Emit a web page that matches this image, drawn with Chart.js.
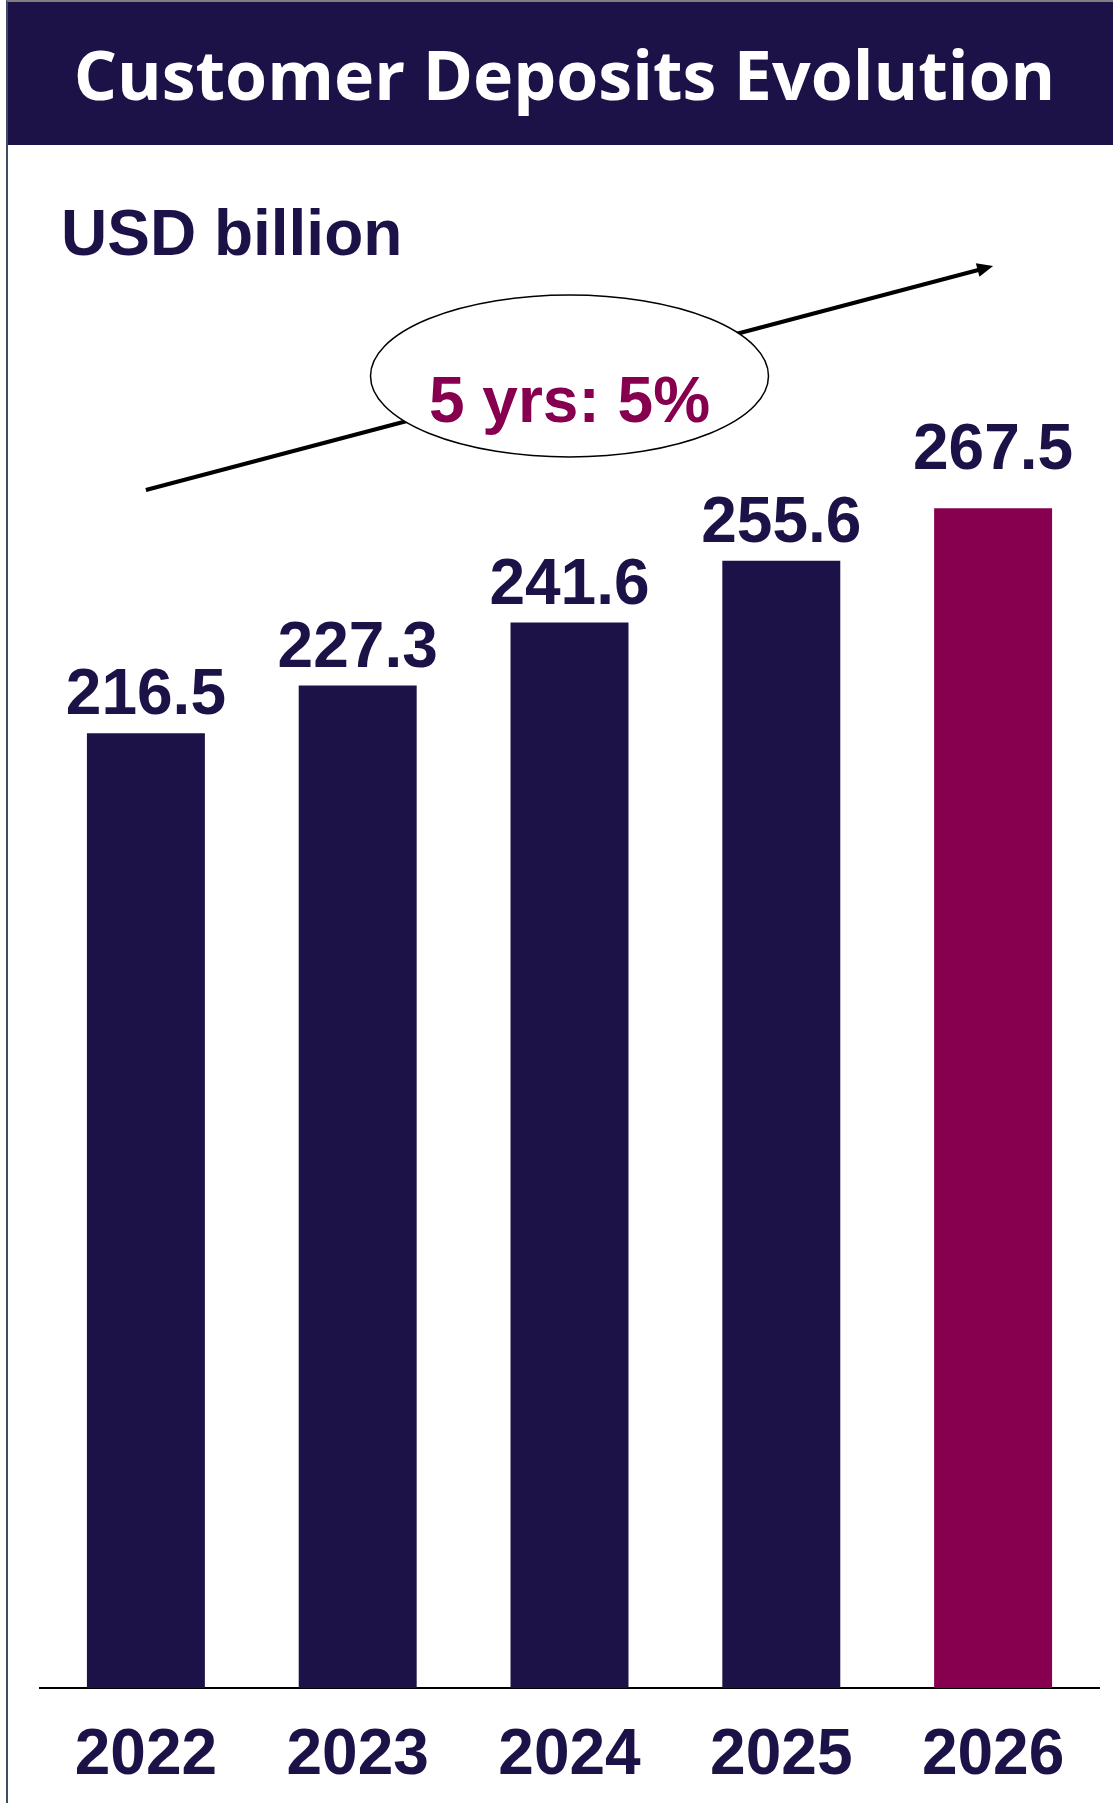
<!DOCTYPE html>
<html>
<head>
<meta charset="utf-8">
<script src="https://cdn.jsdelivr.net/npm/chart.js@4.4.1/dist/chart.umd.min.js"></script>
<style>
  html, body { margin: 0; padding: 0; background: #fff; }
  body { width: 1113px; height: 1803px; position: relative; overflow: hidden; }
  #frame {
    position: absolute; left: 6px; top: 0; right: 0; bottom: 0;
    border-top: 2px solid #7f7f7f; border-left: 2px solid #3b4e66;
  }
  #title {
    position: absolute; left: 8px; top: 2px; right: 0; height: 143px;
    background: #1c1248; color: #fff;
    font: 700 68px "Open Sans", sans-serif;
    display: flex; align-items: center; justify-content: center;
    padding-left: 8px; box-sizing: border-box;
  }
  #chart-wrap { position: absolute; left: 0; top: 0; width: 1113px; height: 1803px; }
</style>
</head>
<body>
<div id="frame"></div>
<div id="title">Customer Deposits Evolution</div>
<div id="chart-wrap"><canvas id="chart-canvas" width="1113" height="1803"></canvas></div>
<script>
const years = ["2022", "2023", "2024", "2025", "2026"];
const deposits = [216.5, 227.3, 241.6, 255.6, 267.5];
const barColors = ["#1c1248", "#1c1248", "#1c1248", "#1c1248", "#870050"];
const unitLabel = "USD billion";
const cagrLabel = "5 yrs: 5%";

const NAVY = "#1c1248";
const PLUM = "#870050";
const FONT = '"Liberation Sans", Arial, sans-serif';

// value labels, trend arrow and CAGR bubble
const decorations = {
  id: "decorations",
  afterDatasetsDraw(chart) {
    const ctx = chart.ctx;
    const meta = chart.getDatasetMeta(0);
    const last = meta.data.length - 1;

    ctx.save();
    ctx.font = "bold 64px " + FONT;
    ctx.fillStyle = NAVY;
    ctx.textAlign = "center";
    ctx.textBaseline = "alphabetic";
    meta.data.forEach((bar, i) => {
      const gap = i === last ? 39 : 19;
      ctx.fillText(deposits[i].toFixed(1), bar.x, bar.y - gap);
    });

    // unit label
    ctx.textAlign = "left";
    ctx.fillText(unitLabel, 61, 255);

    // trend arrow from first to last category
    const x0 = meta.data[0].x, x1 = meta.data[last].x;
    const y0 = 490, y1 = 266;
    ctx.strokeStyle = "#000";
    ctx.lineWidth = 4;
    ctx.beginPath();
    ctx.moveTo(x0, y0);
    ctx.lineTo(x1 - 12, y1 + 3.2);
    ctx.stroke();
    const ang = Math.atan2(y1 - y0, x1 - x0);
    ctx.fillStyle = "#000";
    ctx.beginPath();
    ctx.moveTo(x1, y1);
    ctx.lineTo(x1 - 16 * Math.cos(ang) + 7 * Math.sin(ang), y1 - 16 * Math.sin(ang) - 7 * Math.cos(ang));
    ctx.lineTo(x1 - 16 * Math.cos(ang) - 7 * Math.sin(ang), y1 - 16 * Math.sin(ang) + 7 * Math.cos(ang));
    ctx.closePath();
    ctx.fill();

    // CAGR bubble
    const cx = meta.data[2].x, cy = 376;
    ctx.beginPath();
    ctx.ellipse(cx, cy, 199, 81, 0, 0, Math.PI * 2);
    ctx.fillStyle = "#fff";
    ctx.fill();
    ctx.lineWidth = 1.5;
    ctx.strokeStyle = "#000";
    ctx.stroke();
    ctx.fillStyle = PLUM;
    ctx.textAlign = "center";
    ctx.fillText(cagrLabel, cx, 422);
    ctx.restore();
  }
};

const ctx = document.getElementById("chart-canvas").getContext("2d");
const depositChart = new Chart(ctx, {
  type: "bar",
  data: {
    labels: years,
    datasets: [{
      data: deposits,
      backgroundColor: barColors,
      borderWidth: 0,
      categoryPercentage: 1.0,
      barPercentage: 0.557
    }]
  },
  options: {
    responsive: false,
    animation: false,
    devicePixelRatio: 1,
    layout: { padding: { left: 40, right: 14, top: 365, bottom: 0 } },
    plugins: { legend: { display: false }, tooltip: { enabled: false } },
    scales: {
      x: {
        grid: { display: false, drawTicks: false },
        border: { display: true, color: "#000", width: 2 },
        ticks: { color: NAVY, padding: 30, font: { family: FONT, size: 64, weight: "bold" } },
        afterFit(scale) { scale.height = 115; }
      },
      y: {
        display: false,
        min: 0,
        max: 300
      }
    }
  },
  plugins: [decorations]
});
</script>
</body>
</html>
